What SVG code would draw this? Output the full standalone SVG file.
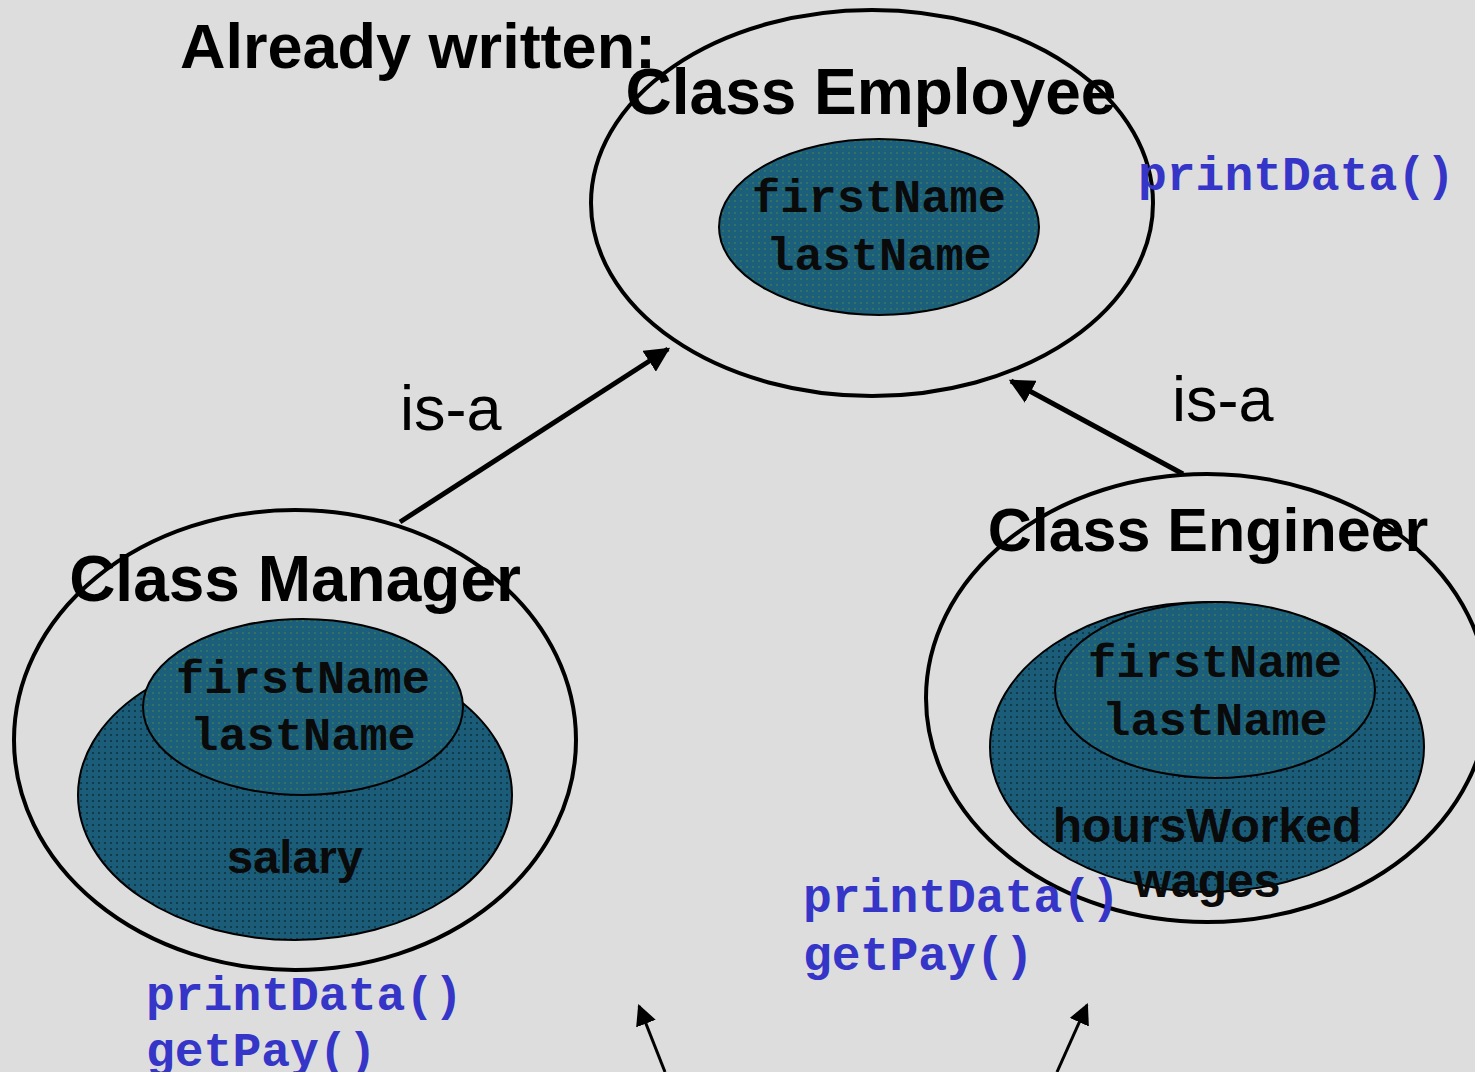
<svg xmlns="http://www.w3.org/2000/svg" width="1475" height="1072" viewBox="0 0 1475 1072">
<defs>
<pattern id="dots" width="6" height="6" patternUnits="userSpaceOnUse">
<rect width="6" height="6" fill="#1b5d78"/>
<circle cx="3" cy="3" r="1" fill="#0d2f3c"/>
</pattern>
<pattern id="dots2" width="6" height="6" patternUnits="userSpaceOnUse">
<rect width="6" height="6" fill="#1c5f7a"/>
<circle cx="3" cy="3" r="0.9" fill="#3f7a5a"/>
</pattern>
<marker id="ah" viewBox="0 0 10 10" refX="9" refY="5" markerWidth="5" markerHeight="5" orient="auto" markerUnits="strokeWidth">
<path d="M0,0 L10,5 L0,10 z" fill="#000"/>
</marker>
<marker id="ah2" viewBox="0 0 10 10" refX="9" refY="5" markerWidth="7" markerHeight="7" orient="auto" markerUnits="strokeWidth">
<path d="M0,0 L10,5 L0,10 z" fill="#000"/>
</marker>
</defs>
<style>
.outer{fill:none;stroke:#000;stroke-width:4}
.big{fill:url(#dots);stroke:#000;stroke-width:2}
.small{fill:url(#dots2);stroke:#000;stroke-width:2}
.title{font-family:"Liberation Sans",Arial,sans-serif;font-weight:bold;font-size:64px;fill:#000}
.field{font-family:"Liberation Mono","Courier New",monospace;font-weight:bold;font-size:47px;fill:#0a0a0a}
.sfield{font-family:"Liberation Sans",Arial,sans-serif;font-weight:bold;font-size:47px;fill:#0a0a0a}
.meth{font-family:"Liberation Mono","Courier New",monospace;font-weight:bold;font-size:48px;fill:#3535c8}
.isa{font-family:"Liberation Sans",Arial,sans-serif;font-size:63px;fill:#000}
.conn{stroke:#000;fill:none}
</style>
<rect width="1475" height="1072" fill="#dddddd"/>
<text x="180" y="68" font-family="Liberation Sans, Arial, sans-serif" font-weight="bold" font-size="63" fill="#000">Already written:</text>

<g id="employee">
<ellipse class="outer" cx="872" cy="203" rx="281" ry="193"/>
<text class="title" x="871" y="114" text-anchor="middle">Class Employee</text>
<ellipse class="small" cx="879" cy="227" rx="160" ry="88"/>
<text class="field" x="879" y="212" text-anchor="middle">firstName</text>
<text class="field" x="879" y="270" text-anchor="middle">lastName</text>
<text class="meth" x="1138" y="190">printData()</text>
</g>

<g id="manager">
<ellipse class="outer" cx="295" cy="740" rx="281" ry="230"/>
<text class="title" x="295" y="601" text-anchor="middle">Class Manager</text>
<ellipse class="big" cx="295" cy="795" rx="217" ry="145"/>
<ellipse class="small" cx="303" cy="707" rx="160" ry="88"/>
<text class="field" x="303" y="693" text-anchor="middle">firstName</text>
<text class="field" x="303" y="750" text-anchor="middle">lastName</text>
<text class="sfield" x="295" y="873" text-anchor="middle">salary</text>
<text class="meth" x="146" y="1010">printData()</text>
<text class="meth" x="146" y="1066">getPay()</text>
</g>

<g id="engineer">
<ellipse class="outer" cx="1207" cy="698" rx="281" ry="224"/>
<text class="title" x="1208" y="551" text-anchor="middle" style="font-size:61px">Class Engineer</text>
<ellipse class="big" cx="1207" cy="747" rx="217" ry="145"/>
<ellipse class="small" cx="1215" cy="690" rx="160" ry="88"/>
<text class="field" x="1215" y="677" text-anchor="middle">firstName</text>
<text class="field" x="1215" y="735" text-anchor="middle">lastName</text>
<text class="sfield" x="1207" y="842" text-anchor="middle" style="font-size:48px">hoursWorked</text>
<text class="sfield" x="1207" y="897" text-anchor="middle" style="font-size:48px">wages</text>
<text class="meth" x="803" y="912">printData()</text>
<text class="meth" x="803" y="970">getPay()</text>
</g>

<g id="connectors">
<line class="conn" x1="400" y1="522" x2="668" y2="349" stroke-width="5" marker-end="url(#ah)"/>
<line class="conn" x1="1183" y1="474" x2="1011" y2="381" stroke-width="5" marker-end="url(#ah)"/>
<line class="conn" x1="665" y1="1072" x2="639" y2="1006" stroke-width="3" marker-end="url(#ah2)"/>
<line class="conn" x1="1057" y1="1072" x2="1087" y2="1005" stroke-width="3" marker-end="url(#ah2)"/>
<text class="isa" x="400" y="430">is-a</text>
<text class="isa" x="1172" y="421">is-a</text>
</g>
</svg>
